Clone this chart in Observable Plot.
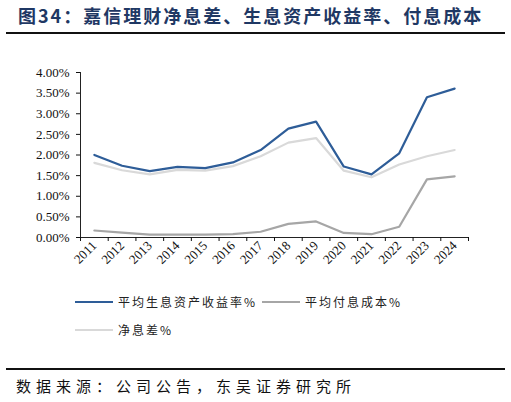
<!DOCTYPE html>
<html><head><meta charset="utf-8">
<script src="https://cdn.jsdelivr.net/npm/d3@7"></script>
<script src="https://cdn.jsdelivr.net/npm/@observablehq/plot@0.6"></script>
<style>
body{margin:0;background:#fff;}
#wrap{position:relative;width:511px;height:402px;overflow:hidden;font-family:"Noto Sans CJK SC",sans-serif;}
#title{position:absolute;left:18px;top:3px;font-size:18px;line-height:24px;font-weight:bold;color:#1f3864;letter-spacing:2px;white-space:nowrap;}
#rule1{position:absolute;left:6px;top:32px;width:499px;height:2px;background:#111;}
#chart{position:absolute;left:0;top:40px;}
#chart svg text{font-family:"Liberation Serif","Times New Roman","DejaVu Serif",serif !important;}
#legend{position:absolute;left:0;top:290px;width:511px;font-size:12px;color:#222;letter-spacing:2px;}
.li{position:absolute;display:flex;align-items:center;white-space:nowrap;line-height:22px;}
.sw{width:38px;height:2.5px;margin-right:5px;}
#rule2{position:absolute;left:6px;top:368px;width:499px;height:2px;background:#111;}
#caption{position:absolute;left:16px;top:374px;font-size:15px;line-height:24px;color:#111;letter-spacing:5px;white-space:nowrap;}
</style></head>
<body><div id="wrap">
<div id="title">图34：嘉信理财净息差、生息资产收益率、付息成本</div>
<div id="rule1"></div>
<div id="chart"></div>
<div id="legend"></div>
<div id="rule2"></div>
<div id="caption">数据来源：公司公告，东吴证券研究所</div>
</div>
<script>
const years = [2011,2012,2013,2014,2015,2016,2017,2018,2019,2020,2021,2022,2023,2024];
const yieldRate = [2.00,1.74,1.61,1.71,1.68,1.82,2.12,2.64,2.81,1.72,1.53,2.04,3.40,3.61];
const costRate  = [0.17,0.12,0.07,0.07,0.07,0.08,0.14,0.33,0.39,0.11,0.08,0.26,1.41,1.48];
const nim       = [1.81,1.63,1.53,1.64,1.62,1.73,1.97,2.30,2.41,1.62,1.46,1.77,1.97,2.12];
const yTicks = [0,0.5,1,1.5,2,2.5,3,3.5,4];
const seriesNames = ["平均生息资产收益率%","平均付息成本%","净息差%"];
const seriesColors = ["#2e5d98","#a6a6a6","#d9d9d9"];
const seriesValues = [yieldRate,costRate,nim];

const data = [];
seriesValues.forEach((vals,si)=>vals.forEach((v,i)=>data.push({year:years[i],value:v,series:seriesNames[si]})));
const bounds = years.map(y=>y-0.5).concat([years[years.length-1]+0.5]);

const order = [2,1,0];
const marks = [];
order.forEach(si=>{
  marks.push(Plot.line(data.filter(d=>d.series===seriesNames[si]),{x:"year",y:"value",stroke:seriesColors[si],strokeWidth:2.2}));
});

const plot = Plot.plot({
  width:511,height:240,
  marginLeft:80,marginRight:43,marginTop:32,marginBottom:43,
  style:{fontSize:"13px",color:"#111",background:"transparent"},
  x:{type:"linear",domain:[years[0]-0.5,years[years.length-1]+0.5]},
  y:{domain:[0,4]},
  marks:[
    Plot.axisY({ticks:yTicks,tickFormat:d=>d.toFixed(2)+"%",tickSize:4,tickPadding:7,label:null,fontSize:13}),
    Plot.ruleX([years[0]-0.5],{stroke:"#222",strokeWidth:1}),
    Plot.ruleY([0],{stroke:"#222",strokeWidth:1}),
    Plot.axisX({ticks:bounds,tickFormat:()=>"",tickSize:4,label:null}),
    Plot.axisX({ticks:years,tickFormat:d=>String(d),tickSize:0,tickPadding:6,tickRotate:-45,label:null,fontSize:13}),
    ...marks
  ]
});
document.getElementById("chart").appendChild(plot);

const legend = document.getElementById("legend");
const pos = [[75,1],[262,1],[75,29]];
seriesNames.forEach((n,i)=>{
  const el = document.createElement("div");
  el.className="li";
  el.style.left=pos[i][0]+"px";el.style.top=pos[i][1]+"px";
  el.innerHTML=`<span class="sw" style="background:${seriesColors[i]}"></span><span>${n}</span>`;
  legend.appendChild(el);
});
</script>
</body></html>
